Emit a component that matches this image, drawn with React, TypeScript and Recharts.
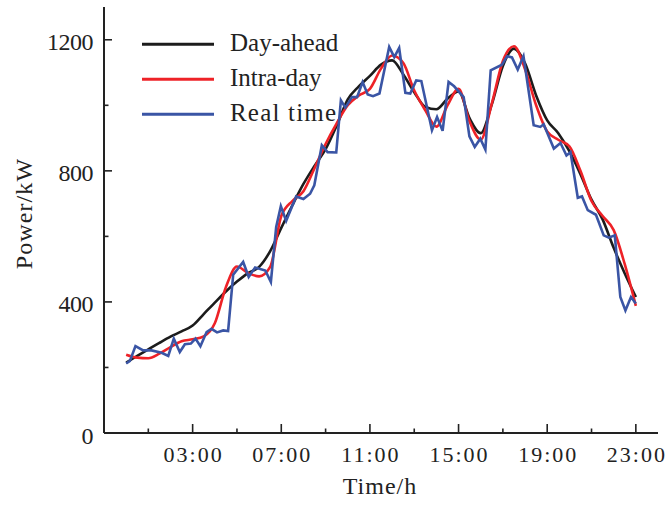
import React from 'react';
import { LineChart, Line, XAxis, YAxis, Legend, Label } from 'recharts';

// ---- data ----
const halfHours = [
  0, 0.5, 1, 1.5, 2, 2.5, 3, 3.5, 4, 4.5, 5, 5.5, 6, 6.5, 7, 7.5, 8, 8.5, 9, 9.5,
  10, 10.5, 11, 11.5, 12, 12.5, 13, 13.5, 14, 14.5, 15, 15.5, 16, 16.5, 17, 17.5,
  18, 18.5, 19, 19.5, 20, 20.5, 21, 21.5, 22, 22.5, 23,
];
const dayAheadValues = [
  215, 235, 255, 275, 294, 310, 328, 363, 398, 432, 462, 488, 507, 555, 626, 695,
  760, 815, 866, 938, 1018, 1058, 1090, 1124, 1137, 1095, 1040, 995, 988, 1020,
  1042, 960, 915, 1003, 1120, 1173, 1128, 1030, 954, 915, 860, 790, 712, 652, 565,
  487, 415,
];
const intraDayValues = [
  239, 230, 228, 242, 262, 280, 286, 295, 335, 445, 508, 488, 478, 507, 662, 708,
  738, 808, 882, 945, 1000, 1030, 1050, 1112, 1152, 1130, 1045, 985, 935, 1000,
  1050, 950, 895, 1005, 1135, 1180, 1110, 1000, 920, 895, 875, 800, 708, 662, 619,
  515, 388,
];
const realTimeHours = [
  0, 0.17, 0.42, 0.77, 1.14, 1.6, 1.9, 2.15, 2.42, 2.65, 2.92, 3.13, 3.35, 3.63,
  3.85, 4.1, 4.38, 4.6, 4.83, 5.28, 5.53, 5.82, 6.28, 6.53, 6.77, 6.98, 7.22, 7.67,
  8.0, 8.3, 8.49, 8.83, 9.09, 9.48, 9.69, 9.89, 10.19, 10.42, 10.67, 10.9, 11.14,
  11.43, 11.87, 12.1, 12.32, 12.6, 12.82, 13.09, 13.32, 13.8, 14.03, 14.28, 14.55,
  14.8, 15.23, 15.49, 15.73, 15.98, 16.21, 16.45, 16.96, 17.19, 17.41, 17.67, 17.93,
  18.39, 18.69, 18.84, 19.3, 19.6, 19.87, 20.05, 20.38, 20.57, 20.83, 21.2, 21.55,
  21.78, 22.05, 22.3, 22.53, 22.78, 23,
];
const realTimeValues = [
  212, 220, 265, 252, 252, 245, 235, 288, 247, 271, 273, 288, 265, 308, 318, 307,
  313, 311, 483, 522, 476, 505, 496, 461, 629, 692, 647, 722, 714, 730, 756, 878,
  857, 856, 1015, 993, 1025, 1025, 1071, 1033, 1028, 1036, 1178, 1147, 1175, 1038,
  1036, 1076, 1074, 924, 964, 922, 1071, 1058, 1025, 905, 873, 898, 865, 1107,
  1124, 1150, 1146, 1109, 1150, 939, 934, 942, 868, 885, 847, 857, 718, 722, 680,
  666, 603, 596, 603, 415, 374, 415, 395,
];
const seriesNames = ['Day-ahead', 'Intra-day', 'Real time'];
const seriesColors = ['#1c1c1c', '#ee2227', '#3a55a5'];
const xAllTicks = [1, 3, 5, 7, 9, 11, 13, 15, 17, 19, 21, 23];
const xMajorTicks = [3, 7, 11, 15, 19, 23];
const xTickLabels = ['03:00', '07:00', '11:00', '15:00', '19:00', '23:00'];
const yAllTicks = [0, 200, 400, 600, 800, 1000, 1200];
const yMajorTicks = [0, 400, 800, 1200];

const dayAheadData = halfHours.map((h, i) => ({ h, v: dayAheadValues[i] }));
const intraDayData = halfHours.map((h, i) => ({ h, v: intraDayValues[i] }));
const realTimeData = realTimeHours.map((h, i) => ({ h, v: realTimeValues[i] }));

const FONT = "'Liberation Serif', 'Times New Roman', serif";
const TEXT = '#222';

const XTick = (props: any) => {
  const { x, y, payload } = props;
  const idx = xMajorTicks.indexOf(payload.value);
  const major = idx >= 0;
  return (
    <g>
      <line x1={x} x2={x} y1={y} y2={y - (major ? 9 : 4.5)} stroke="#222" strokeWidth={1.6} />
      {major && (
        <text x={x + 1} y={y + 28.5} textAnchor="middle" fontFamily={FONT} fontSize={22} letterSpacing={2} fill={TEXT}>
          {xTickLabels[idx]}
        </text>
      )}
    </g>
  );
};

const YTick = (props: any) => {
  const { x, y, payload } = props;
  const major = yMajorTicks.includes(payload.value);
  return (
    <g>
      <line x1={x} x2={x + (major ? 8 : 4.5)} y1={y} y2={y} stroke="#222" strokeWidth={1.6} />
      {major && (
        <text x={x - 11} y={y + 10.5} textAnchor="end" fontFamily={FONT} fontSize={24} letterSpacing={-0.5} fill={TEXT}>
          {payload.value}
        </text>
      )}
    </g>
  );
};

const renderLegend = (props: any) => {
  const payload = props.payload || [];
  return (
    <svg width={360} height={140} style={{ display: 'block' }}>
      {payload.map((it: any, i: number) => (
        <g key={i}>
          <line x1={142} x2={214} y1={44.3 + 35 * i} y2={44.3 + 35 * i} stroke={it.color} strokeWidth={3} />
          <text x={230} y={50.5 + 35 * i} fontFamily={FONT} fontSize={25} letterSpacing={i === 2 ? 1.2 : 0} fill={TEXT}>
            {it.value}
          </text>
        </g>
      ))}
    </svg>
  );
};

export default function App() {
  return (
    <div style={{ position: 'absolute', left: 0, top: 0, background: '#fff' }}>
      <LineChart width={668} height={506} margin={{ top: 7, right: 10, bottom: 0, left: 0 }}>
        <XAxis
          xAxisId="top"
          orientation="top"
          type="number"
          domain={[-1, 24]}
          height={0}
          tick={false}
          tickLine={false}
          axisLine={{ stroke: '#555', strokeWidth: 2 }}
        />
        <YAxis
          yAxisId="right"
          orientation="right"
          type="number"
          domain={[0, 1300]}
          width={0}
          tick={false}
          tickLine={false}
          axisLine={{ stroke: '#555', strokeWidth: 2 }}
        />
        <XAxis
          dataKey="h"
          type="number"
          domain={[-1, 24]}
          ticks={xAllTicks}
          interval={0}
          height={73}
          tickSize={0}
          tickMargin={0}
          tickLine={false}
          axisLine={{ stroke: '#222', strokeWidth: 2 }}
          tick={<XTick />}
          allowDataOverflow
        >
          <Label
            content={() => (
              <text x={380} y={494} textAnchor="middle" fontFamily={FONT} fontSize={24} letterSpacing={1} fill={TEXT}>
                Time/h
              </text>
            )}
          />
        </XAxis>
        <YAxis
          type="number"
          domain={[0, 1300]}
          ticks={yAllTicks}
          interval={0}
          width={104}
          tickSize={0}
          tickMargin={0}
          tickLine={false}
          axisLine={{ stroke: '#222', strokeWidth: 2 }}
          tick={<YTick />}
          allowDataOverflow
        >
          <Label
            content={() => (
              <text
                x={32}
                y={213.5}
                transform="rotate(-90, 32, 213.5)"
                textAnchor="middle"
                fontFamily={FONT}
                fontSize={24}
                letterSpacing={1.1}
                fill={TEXT}
              >
                Power/kW
              </text>
            )}
          />
        </YAxis>
        <Legend
          layout="vertical"
          align="center"
          verticalAlign="middle"
          content={renderLegend}
          wrapperStyle={{ left: 0, top: 0, width: 360, height: 140 }}
        />
        <Line
          data={dayAheadData}
          dataKey="v"
          name={seriesNames[0]}
          type="monotone"
          stroke={seriesColors[0]}
          strokeWidth={2.6}
          dot={false}
          activeDot={false}
          isAnimationActive={false}
        />
        <Line
          data={intraDayData}
          dataKey="v"
          name={seriesNames[1]}
          type="monotone"
          stroke={seriesColors[1]}
          strokeWidth={2.6}
          dot={false}
          activeDot={false}
          isAnimationActive={false}
        />
        <Line
          data={realTimeData}
          dataKey="v"
          name={seriesNames[2]}
          type="linear"
          stroke={seriesColors[2]}
          strokeWidth={2.6}
          dot={false}
          activeDot={false}
          isAnimationActive={false}
        />
      </LineChart>
    </div>
  );
}
